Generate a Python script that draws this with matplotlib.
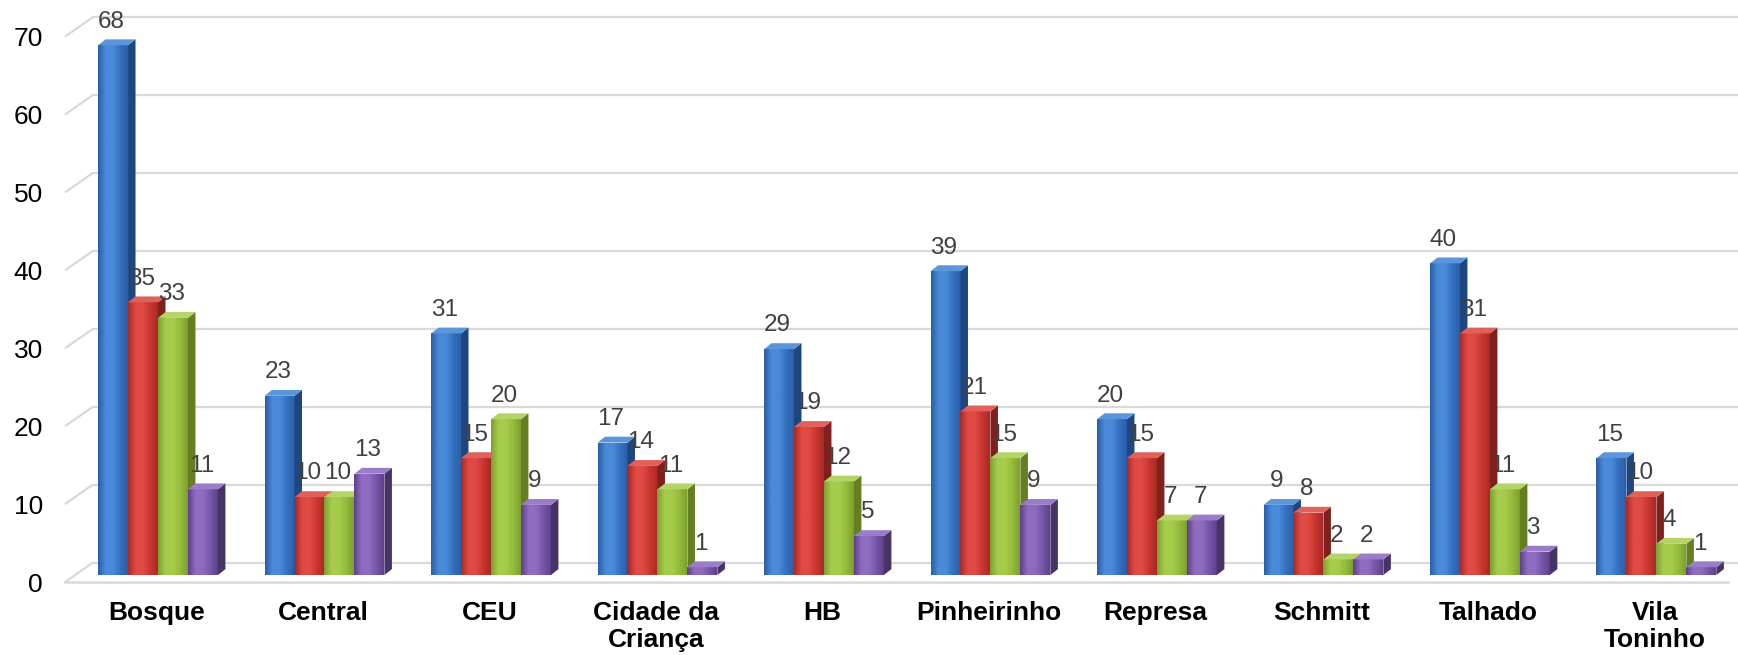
import matplotlib.pyplot as plt
import numpy as np
from matplotlib.patches import Polygon
from matplotlib.colors import LinearSegmentedColormap

plt.rcParams['font.family'] = ['Liberation Sans', 'DejaVu Sans']

# dados por unidade
locais = ['Bosque', 'Central', 'CEU', 'Cidade da\nCriança', 'HB', 'Pinheirinho',
          'Represa', 'Schmitt', 'Talhado', 'Vila\nToninho']
serie1 = [68, 23, 31, 17, 29, 39, 20, 9, 40, 15]
serie2 = [35, 10, 15, 14, 19, 21, 15, 8, 31, 10]
serie3 = [33, 10, 20, 11, 12, 15, 7, 2, 11, 4]
serie4 = [11, 13, 9, 1, 5, 9, 7, 2, 3, 1]
series = [serie1, serie2, serie3, serie4]
yticks = [0, 10, 20, 30, 40, 50, 60, 70]

# cores de cada serie: (escura, clara, media, lado, topo)
cores = [
    ('#2a5fa8', '#4a8ad8', '#3470c0', '#1f477f', '#5b95dc'),
    ('#a82a26', '#e04a44', '#c8352f', '#80201c', '#e0605a'),
    ('#7ea02e', '#a6cc4c', '#94bb3c', '#637f22', '#b4d468'),
    ('#5e418a', '#8f6cbf', '#7656a8', '#483266', '#9a7cc8'),
]

# geometria da perspectiva (unidades de dados)
larg = 0.18          # largura de cada barra
x0 = -0.5586         # canto frontal esquerdo do piso
xfim = 9.43          # fim da linha frontal do piso
xmax = 9.49
ymax = 74.7
prof_dx, prof_dy = 0.168, 2.5   # profundidade da parede
base = 0.9                      # base das barras (meio do piso)
bar_dx, bar_dy = 0.045, 0.75    # profundidade das barras

fig = plt.figure(figsize=(17.38, 6.55), dpi=100)
ax = fig.add_axes([65 / 1738, 73 / 655, 1 - 65 / 1738, 582 / 655])
ax.set_xlim(x0, xmax)
ax.set_ylim(0, ymax)
for s in ax.spines.values():
    s.set_visible(False)

# linhas de grade: diagonal da parede lateral + linha da parede do fundo
cor_grade = '#d9d9d9'
for v in yticks:
    ax.plot([x0, x0 + prof_dx], [v, v + prof_dy], color=cor_grade, lw=1.6, zorder=1,
            solid_capstyle='butt', clip_on=False)
    ax.plot([x0 + prof_dx, xmax], [v + prof_dy, v + prof_dy], color=cor_grade, lw=1.6,
            zorder=1, clip_on=False)
ax.plot([x0, xfim], [0, 0], color=cor_grade, lw=1.8, zorder=1, clip_on=False)

grad = np.linspace(0, 1, 64).reshape(1, -1)
xs = np.arange(len(locais))
for i in xs:
    for k, serie in enumerate(series):
        v = serie[i]
        escura, clara, media, lado, topo = cores[k]
        xc = i + (k - 1.5) * larg
        xl, xr = xc - larg / 2, xc + larg / 2
        z = 2 + i * 10 + k
        # face frontal com degrade
        frente = ax.bar(xc, v, width=larg, bottom=base, color=media, zorder=z,
                        linewidth=0)[0]
        cmap = LinearSegmentedColormap.from_list(
            'f%d' % k, [escura, clara, clara, media, escura])
        im = ax.imshow(grad, cmap=cmap, extent=(xl, xr, base, base + v), aspect='auto',
                       zorder=z, interpolation='bilinear')
        im.set_clip_path(frente)
        # lateral direita
        ax.add_patch(Polygon([(xr, base), (xr + bar_dx, base + bar_dy),
                              (xr + bar_dx, base + v + bar_dy), (xr, base + v)],
                             closed=True, color=lado, zorder=z, lw=0))
        # topo
        ax.add_patch(Polygon([(xl, base + v), (xr, base + v),
                              (xr + bar_dx, base + v + bar_dy),
                              (xl + bar_dx, base + v + bar_dy)],
                             closed=True, color=topo, zorder=z, lw=0))
        # rotulo do valor
        ax.annotate(str(v), (xc - 0.01, base + v), xytext=(0, 17),
                    textcoords='offset points', ha='center', va='center',
                    fontsize=17.5, color='#404040', zorder=100)

ax.set_xlim(x0, xmax)
ax.set_ylim(0, ymax)

ax.set_yticks(yticks)
ax.set_yticklabels([str(t) for t in yticks], fontsize=19)
ax.set_xticks(xs - 0.01)
ax.set_xticklabels(locais, fontsize=19, fontweight='bold', linespacing=1.15)
ax.tick_params(axis='y', length=0, pad=16)
ax.tick_params(axis='x', length=0, pad=14)

plt.savefig('out.png', dpi=100, facecolor='white')
